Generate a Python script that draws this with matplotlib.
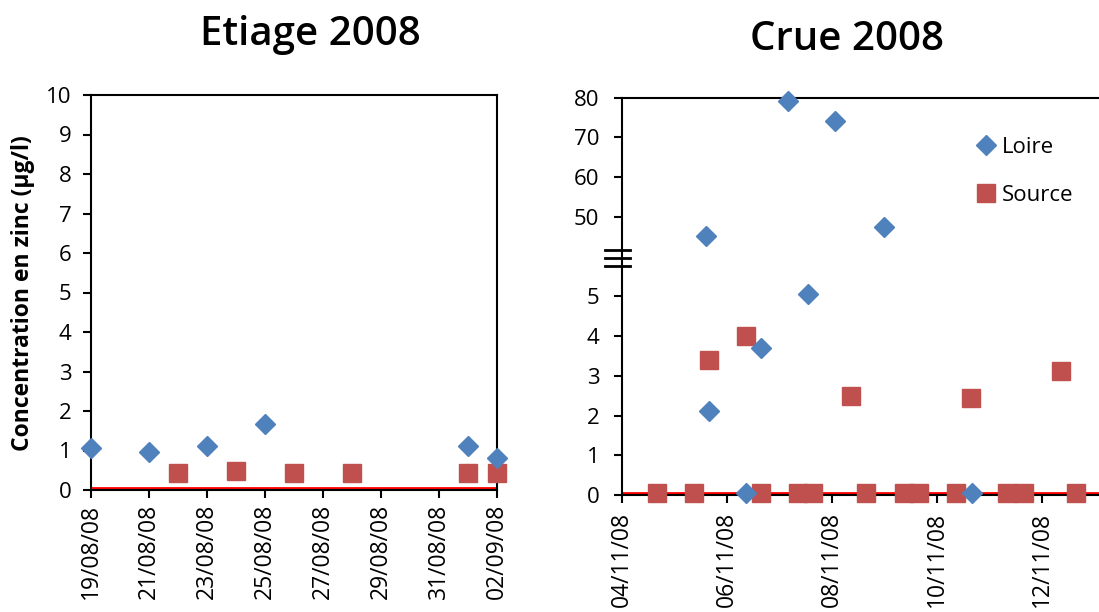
#!/usr/bin/python3

import numpy as np
import pandas as pd
import matplotlib
matplotlib.use('Agg')
import matplotlib.pyplot as plt
import matplotlib.dates as mdates

BLUE = '#4F81BD'
RED = '#C0504D'

# Etiage 2008 (low water)
etiage_loire_dates = ['2008-08-19', '2008-08-21', '2008-08-23', '2008-08-25',
                      '2008-09-01', '2008-09-02']
etiage_loire_zn = [1.07, 0.95, 1.11, 1.66, 1.11, 0.80]
etiage_source_dates = ['2008-08-22', '2008-08-24', '2008-08-26', '2008-08-28',
                       '2008-09-01', '2008-09-02']
etiage_source_zn = [0.44, 0.48, 0.44, 0.44, 0.44, 0.42]
etiage_range = ['2008-08-19 00:00', '2008-09-02 00:00']

# Crue 2008 (flood)
crue_loire_dates = ['2008-11-05 14:25', '2008-11-05 15:50', '2008-11-06 08:40',
                    '2008-11-06 15:40', '2008-11-07 04:00', '2008-11-07 13:10',
                    '2008-11-08 01:40', '2008-11-08 23:45', '2008-11-10 16:00']
crue_loire_zn = [45.2, 2.11, 0.05, 3.70, 79.2, 5.05, 74.2, 47.5, 0.05]
crue_source_dates = ['2008-11-04 16:00', '2008-11-05 08:50', '2008-11-05 15:50',
                     '2008-11-06 08:40', '2008-11-06 15:40', '2008-11-07 08:40',
                     '2008-11-07 15:40', '2008-11-08 08:40', '2008-11-08 15:40',
                     '2008-11-09 08:50', '2008-11-09 15:40', '2008-11-10 08:40',
                     '2008-11-10 15:40', '2008-11-11 08:20', '2008-11-11 15:40',
                     '2008-11-12 08:40', '2008-11-12 15:40']
crue_source_zn = [0.04, 0.04, 3.41, 4.00, 0.04, 0.04, 0.04, 2.50, 0.04, 0.04,
                  0.04, 0.04, 2.43, 0.04, 0.04, 3.11, 0.04]
crue_range = ['2008-11-04 00:00', '2008-11-13 02:10']
crue_yticks = [0, 1, 2, 3, 4, 5, 50, 60, 70, 80]

limit_zn = 0.045

TICK_SIZE = 16


def fwd(y):
    '''Broken axis: 0-5.5 linear, squeezed gap, then 1/10 scale above 45'''
    y = np.asarray(y, dtype=float)
    return np.where(y <= 5.5, y,
                    np.where(y < 45, 5.5 + (y - 5.5) / 39.5, 2 + y / 10))


def inv(t):
    t = np.asarray(t, dtype=float)
    return np.where(t <= 5.5, t,
                    np.where(t < 6.5, 5.5 + (t - 5.5) * 39.5, (t - 2) * 10))


def to_dt(values):
    return pd.to_datetime(values, format='mixed')


def style_axes(ax, ypad, xpad):
    for s in ax.spines.values():
        s.set_linewidth(1.5)
        s.set_color('black')
    ax.tick_params(axis='both', direction='out', length=6, width=1.5,
                   labelsize=TICK_SIZE, colors='black')
    ax.tick_params(axis='y', pad=ypad)
    ax.tick_params(axis='x', pad=xpad, labelrotation=90, labelsize=TICK_SIZE + 0.5)
    ax.xaxis.set_major_formatter(mdates.DateFormatter('%d/%m/%y'))


def scatter(ax, loire_d, loire_v, source_d, source_v):
    ax.plot(to_dt(loire_d), loire_v, ls='none', marker='D', ms=10,
            color=BLUE, mec=BLUE, label='Loire', zorder=4, clip_on=False)
    ax.plot(to_dt(source_d), source_v, ls='none', marker='s', ms=13.5,
            color=RED, mec=RED, label='Source', zorder=3, clip_on=False)


def main():
    plt.rcParams['font.family'] = ['Open Sans', 'DejaVu Sans']
    fig = plt.figure(figsize=(10.99, 6.12), dpi=100)

    # left panel
    ax1 = fig.add_axes([91 / 1099, 1 - 490 / 612, 406 / 1099, 395 / 612])
    x1 = to_dt(etiage_range)
    ax1.plot(x1, [limit_zn] * 2, color='#FF0000', lw=2, zorder=2)
    scatter(ax1, etiage_loire_dates, etiage_loire_zn,
            etiage_source_dates, etiage_source_zn)
    ax1.set_xlim(x1[0], x1[1])
    ax1.set_ylim(0, 10)
    ax1.set_yticks(range(0, 11))
    ax1.set_xticks(pd.date_range(x1[0], x1[1], freq='2D'))
    style_axes(ax1, ypad=8, xpad=4)

    # right panel, broken y axis
    ax2 = fig.add_axes([621.7 / 1099, 1 - 495 / 612, 477.3 / 1099, 397.3 / 612])
    ax2.set_yscale('function', functions=(fwd, inv))
    x2 = to_dt(crue_range)
    ax2.plot(x2, [limit_zn] * 2, color='#FF0000', lw=2, zorder=2)
    scatter(ax2, crue_loire_dates, crue_loire_zn,
            crue_source_dates, crue_source_zn)
    ax2.set_xlim(x2[0], x2[1])
    ax2.set_ylim(0, 80)
    ax2.set_yticks(crue_yticks)
    ax2.set_yticklabels([str(v) for v in crue_yticks])
    ax2.yaxis.set_minor_locator(plt.NullLocator())
    ax2.set_xticks(pd.date_range('2008-11-04', '2008-11-12', freq='2D'))
    ax2.spines['right'].set_visible(False)
    style_axes(ax2, ypad=10, xpad=6)
    for yb in (0.617, 0.597, 0.576):
        ax2.plot([-0.034, 0.018], [yb, yb], transform=ax2.transAxes,
                 color='black', lw=2, clip_on=False, zorder=5)

    ax2.legend(loc='upper left', bbox_to_anchor=(975 / 1099, 1 - 137 / 612),
               bbox_transform=fig.transFigure, frameon=False, fontsize=TICK_SIZE,
               handlelength=1.0, handletextpad=0.2, labelspacing=1.2,
               borderpad=0, borderaxespad=0, numpoints=1)

    fig.text(310 / 1099, 1 - 45 / 612, 'Etiage 2008', ha='center', va='baseline',
             fontsize=29, fontweight='semibold')
    fig.text(847 / 1099, 1 - 50 / 612, 'Crue 2008', ha='center', va='baseline',
             fontsize=29, fontweight='semibold')
    fig.text(23 / 1099, 1 - 293 / 612, 'Concentration en zinc (µg/l)',
             rotation=90, ha='center', va='center', fontsize=16.5,
             fontweight='bold')

    fig.savefig('out.png', dpi=100)


if __name__ == '__main__':
    main()
